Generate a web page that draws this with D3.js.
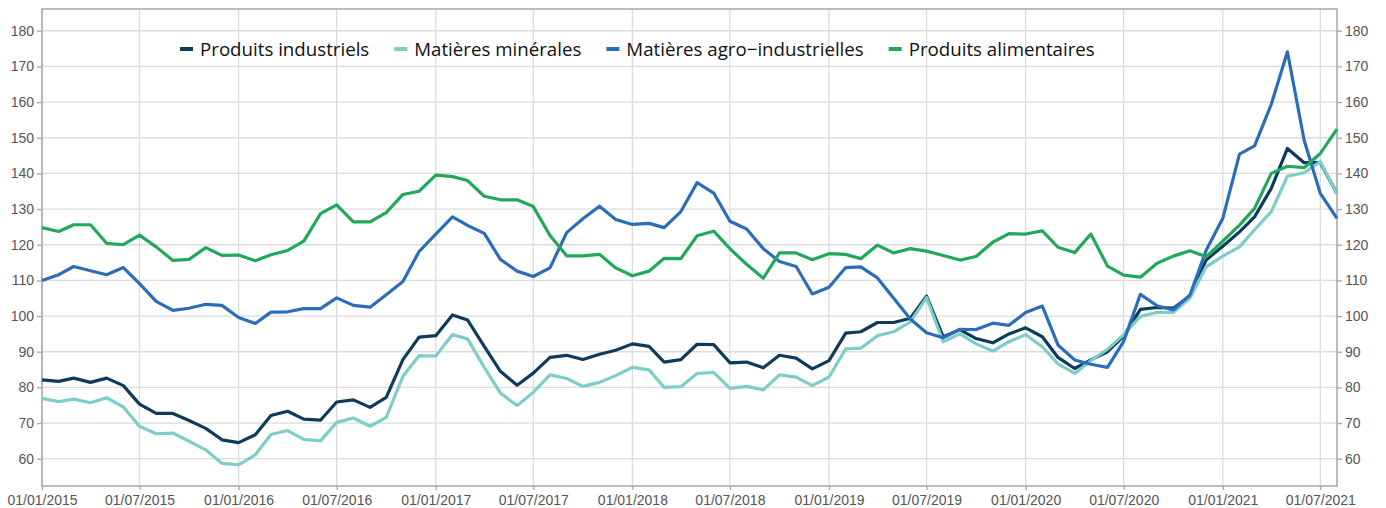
<!DOCTYPE html>
<html>
<head>
<meta charset="utf-8">
<script src="https://cdn.jsdelivr.net/npm/d3@7"></script>
<style>
  body { margin: 0; background: #fff; }
  svg { display: block; font-family: "Open Sans", sans-serif; }
  .tick text { fill: #555; font-size: 14px; }
</style>
</head>
<body>
<div id="chart"></div>
<script>
// monthly index values, Jan 2015 -> Aug 2021
var seriesNames = ["Produits industriels", "Matières minérales", "Matières agro−industrielles", "Produits alimentaires"];
var seriesColors = ["#0c3b5b", "#7fcdc8", "#2b6db9", "#22a85a"];

var industriels = [
  82.1, 81.7, 82.6, 81.4, 82.6, 80.5, 75.3, 72.7, 72.7, 70.7, 68.5, 65.3,
  64.5, 66.7, 72.1, 73.3, 71.1, 70.8, 75.9, 76.5, 74.4, 77.2, 87.8, 94.1,
  94.5, 100.3, 98.9, 91.5, 84.5, 80.6, 84.0, 88.4, 89.0, 87.8, 89.3, 90.4,
  92.2, 91.5, 87.1, 87.8, 92.1, 92.0, 86.9, 87.1, 85.5, 89.0, 88.2, 85.2,
  87.5, 95.2, 95.6, 98.2, 98.2, 99.4, 105.6, 94.2, 96.2, 93.7, 92.5, 95.0,
  96.7, 94.2, 88.4, 85.3, 87.7, 90.0, 94.4, 101.9, 102.4, 102.2, 105.6, 115.7,
  119.6, 123.6, 127.8, 135.8, 147.0, 143.0, 143.0, 134.4
];
var minerales = [
  76.9, 76.0, 76.7, 75.7, 77.1, 74.5, 69.1, 67.0, 67.2, 64.9, 62.5, 58.7,
  58.3, 61.1, 66.8, 67.9, 65.4, 65.0, 70.2, 71.4, 69.1, 71.6, 83.1, 88.9,
  88.8, 94.8, 93.6, 85.6, 78.4, 74.9, 78.6, 83.5, 82.5, 80.3, 81.4, 83.3,
  85.6, 84.9, 80.0, 80.2, 83.9, 84.2, 79.7, 80.3, 79.3, 83.5, 82.9, 80.5,
  82.9, 90.8, 91.0, 94.5, 95.6, 98.4, 105.2, 92.8, 95.0, 92.2, 90.2, 92.8,
  94.8, 91.4, 86.6, 83.9, 87.5, 90.7, 94.8, 99.9, 101.0, 101.0, 105.0, 113.8,
  116.8, 119.4, 124.2, 129.3, 139.2, 140.2, 143.3, 134.4
];
var agro = [
  110.0, 111.6, 113.9, 112.7, 111.6, 113.6, 109.1, 104.1, 101.6, 102.2, 103.3, 103.0,
  99.6, 97.9, 101.1, 101.2, 102.1, 102.1, 105.1, 103.0, 102.5, 106.0, 109.7, 118.1,
  123.0, 127.8, 125.4, 123.2, 115.9, 112.6, 111.1, 113.5, 123.4, 127.3, 130.8, 127.1,
  125.7, 126.0, 124.8, 129.3, 137.4, 134.5, 126.6, 124.4, 118.9, 115.3, 113.9, 106.2,
  108.1, 113.6, 113.8, 110.7, 105.0, 99.2, 95.3, 93.9, 96.3, 96.2, 98.0, 97.4,
  101.0, 102.8, 91.9, 87.7, 86.5, 85.6, 92.9, 106.1, 102.9, 101.7, 105.9, 118.4,
  127.4, 145.4, 147.7, 159.4, 174.1, 149.3, 134.4, 127.4
];
var alimentaires = [
  124.8, 123.7, 125.6, 125.6, 120.4, 120.0, 122.7, 119.4, 115.6, 115.9, 119.2, 117.0,
  117.1, 115.5, 117.2, 118.4, 121.0, 128.7, 131.2, 126.4, 126.4, 129.0, 134.1, 135.0,
  139.5, 139.1, 138.0, 133.6, 132.6, 132.6, 130.7, 122.6, 116.9, 116.9, 117.3, 113.5,
  111.3, 112.6, 116.2, 116.1, 122.5, 123.8, 118.9, 114.5, 110.6, 117.7, 117.7, 115.8,
  117.5, 117.3, 116.1, 119.9, 117.7, 118.9, 118.2, 117.0, 115.7, 116.7, 120.7, 123.1,
  123.0, 123.9, 119.3, 117.8, 123.0, 114.0, 111.5, 110.9, 114.8, 116.8, 118.3, 116.6,
  121.0, 125.5, 130.2, 140.0, 142.0, 141.6, 145.6, 152.4
];

var xTicks = ["2015-01-01", "2015-07-01", "2016-01-01", "2016-07-01", "2017-01-01", "2017-07-01",
  "2018-01-01", "2018-07-01", "2019-01-01", "2019-07-01", "2020-01-01", "2020-07-01",
  "2021-01-01", "2021-07-01"];
var yTicks = [60, 70, 80, 90, 100, 110, 120, 130, 140, 150, 160, 170, 180];

var parseDay = d3.timeParse("%Y-%m-%d");
var months = d3.timeMonth.range(parseDay("2015-01-01"), parseDay("2021-09-01"));
var allSeries = [industriels, minerales, agro, alimentaires];

var W = 1386, H = 508;
var margin = {top: 9, right: 49, bottom: 22, left: 42};
var width = W - margin.left - margin.right,
    height = H - margin.top - margin.bottom;

var svg = d3.select("#chart").append("svg")
    .attr("width", W)
    .attr("height", H);
var g = svg.append("g")
    .attr("transform", "translate(" + margin.left + "," + margin.top + ")");

var x = d3.scaleTime()
    .domain([parseDay("2015-01-01"), parseDay("2021-08-01")])
    .range([0, width]);
var y = d3.scaleLinear()
    .domain([52.35, 186.1])
    .range([height, 0]);

// grid
g.append("g").selectAll("line")
  .data(yTicks)
  .enter().append("line")
    .attr("x1", 0).attr("x2", width)
    .attr("y1", d => y(d)).attr("y2", d => y(d))
    .attr("stroke", "#dcdcdc").attr("stroke-width", 1.3);
g.append("g").selectAll("line")
  .data(xTicks.map(parseDay))
  .enter().append("line")
    .attr("x1", d => x(d)).attr("x2", d => x(d))
    .attr("y1", 0).attr("y2", height)
    .attr("stroke", "#dcdcdc").attr("stroke-width", 1.3);

// axes
var fmt = d3.timeFormat("%d/%m/%Y");
function styleAxis(sel) {
  sel.select(".domain").remove();
  sel.selectAll(".tick line").attr("stroke", "#a6a6a6").attr("stroke-width", 1.3);
}
g.append("g")
  .attr("transform", "translate(0," + height + ")")
  .call(d3.axisBottom(x).tickValues(xTicks.map(parseDay)).tickFormat(fmt).tickSize(4).tickPadding(5))
  .call(styleAxis);
g.append("g")
  .call(d3.axisLeft(y).tickValues(yTicks).tickSize(5).tickPadding(3))
  .call(styleAxis);
g.append("g")
  .attr("transform", "translate(" + width + ",0)")
  .call(d3.axisRight(y).tickValues(yTicks).tickSize(5).tickPadding(3))
  .call(styleAxis);

// frame
g.append("rect")
  .attr("x", 0).attr("y", 0)
  .attr("width", width).attr("height", height)
  .attr("fill", "none")
  .attr("stroke", "#a6a6a6")
  .attr("stroke-width", 1.5);

// lines
var line = d3.line()
    .x((d, i) => x(months[i]))
    .y(d => y(d));

g.selectAll(".series")
  .data(allSeries)
  .enter().append("path")
    .attr("class", "series")
    .attr("d", d => line(d))
    .attr("fill", "none")
    .attr("stroke", (d, i) => seriesColors[i])
    .attr("stroke-width", 3.2)
    .attr("stroke-linejoin", "round");

// legend
var legend = svg.append("g").attr("transform", "translate(180,49)");
var lx = 0;
seriesNames.forEach(function(name, i) {
  var item = legend.append("g").attr("transform", "translate(" + lx + ",0)");
  item.append("line")
    .attr("x1", 0).attr("x2", 13)
    .attr("stroke", seriesColors[i])
    .attr("stroke-width", 4);
  var t = item.append("text")
    .attr("x", 20)
    .attr("dy", "0.35em")
    .attr("fill", "#111")
    .style("font-size", "18.7px")
    .text(name);
  lx += 20 + t.node().getComputedTextLength() + 25;
});
</script>
</body>
</html>
